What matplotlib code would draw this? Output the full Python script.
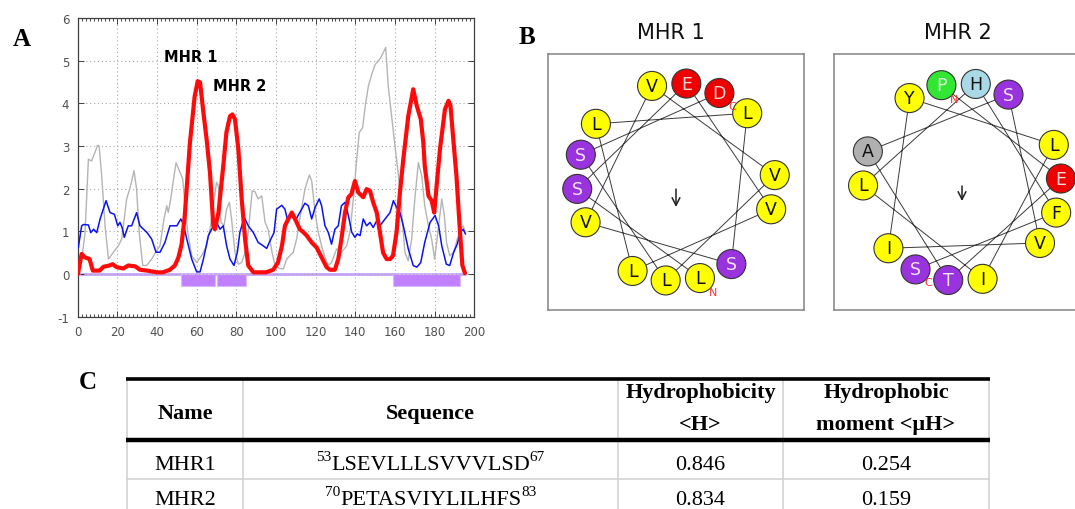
import matplotlib
matplotlib.use("Agg")
import numpy as np
import matplotlib.pyplot as plt
from matplotlib.patches import Circle

plt.rcParams["axes.unicode_minus"] = False

W, H, DPI = 1075, 510, 100

# ---------------- Panel A: profiles along the sequence ----------------
seq_length = 196

red_x = [0, 2, 3.7, 6, 7.6, 11, 13, 16, 17.6, 19.7, 23, 25.5, 29, 31.4, 35, 40, 43, 46.5, 49, 50.8,
         52.4, 54, 56.6, 59, 60.5, 61.7, 63.4, 65, 66.7, 68.4, 69.2, 71, 73.4, 75, 76.8, 78, 79.3, 81, 82.7, 84.4,
         86, 88.6, 95, 98.6, 101, 103, 104.5, 106.2, 108, 109.6, 112, 113.8, 115.5, 118, 120.5, 123, 125.5, 127.2, 129.7, 131.4,
         133, 134.8, 136.5, 138, 139.8, 141.5, 144, 145.7, 147.4, 149, 150.8, 152.4, 154, 155.8, 157.5, 159, 160.8, 162.5, 164.2, 166.7,
         169.2, 171, 173, 174.3, 175, 176.9, 178.5, 179.8, 181, 182.7, 185.2, 187, 188, 189.4, 191, 192.8, 194, 195.3]
red_y = [0, 0.47, 0.39, 0.35, 0.08, 0.08, 0.17, 0.2, 0.23, 0.16, 0.13, 0.2, 0.18, 0.1, 0.08, 0.04, 0.04, 0.1, 0.2, 0.39,
         0.7, 1.37, 3.08, 4.17, 4.52, 4.49, 3.78, 3.16, 2.38, 1.13, 1.05, 1.44, 2.53, 3.32, 3.7, 3.74, 3.63, 2.93, 1.76, 0.82,
         0.2, 0.04, 0.04, 0.1, 0.27, 0.66, 1.13, 1.29, 1.44, 1.29, 1.05, 0.98, 0.9, 0.74, 0.62, 0.39, 0.16, 0.1, 0.1, 0.35,
         0.82, 1.44, 1.8, 1.87, 2.18, 1.91, 1.8, 1.99, 1.95, 1.68, 1.44, 0.98, 0.5, 0.35, 0.35, 0.43, 0.98, 1.91, 2.69, 3.7,
         4.33, 3.94, 3.63, 3.08, 2.54, 1.83, 1.72, 1.44, 2.07, 2.93, 3.86, 4.06, 3.94, 3.16, 2.3, 0.98, 0.2, 0.02]

blue_x = [0.3, 2, 2.9, 5.4, 6.6, 8, 9.6, 11.3, 14.3, 16.3, 18.5, 20.2, 21.3, 22.4, 23.5, 25.5, 27.2, 29.7, 31.4, 35,
          37.3, 39.5, 41.5, 44, 46.5, 50, 52, 53.3, 55, 57.5, 60, 61.7, 63.4, 65.9, 68.4, 70, 71.8, 73.4, 75.1, 76.8,
          78.8, 80.5, 81.8, 84, 86, 88.6, 91, 93.6, 95.3, 97, 99, 100.3, 102.9, 104.5, 105.7, 107.9, 109.6, 112, 114.6, 116.3,
          118, 119.7, 121.8, 123, 124.7, 126.4, 128, 129.7, 131.4, 133, 134.8, 136.5, 138.2, 139.8, 141, 142.4, 144, 145.7, 147.4, 149,
          150.8, 152.4, 155, 157.5, 159.2, 160.8, 162.5, 164.2, 166.7, 169.2, 171, 173, 175, 177.7, 180.2, 182, 183.6, 185.9, 187.6, 189.6,
          191.4, 193, 194.4, 195.5]
blue_y = [0.62, 1.13, 1.16, 1.15, 0.97, 1.05, 0.97, 1.29, 1.72, 1.44, 1.4, 1.13, 1.21, 1.09, 0.86, 1.13, 1.13, 1.44, 1.13, 0.97,
          0.82, 0.51, 0.51, 0.74, 1.13, 1.13, 1.29, 1.17, 0.82, 0.35, 0.05, 0.05, 0.35, 0.9, 1.13, 1.21, 1.05, 1.13, 0.66, 0.35,
          0.2, 0.51, 0.98, 1.33, 1.13, 0.97, 0.74, 0.66, 0.6, 0.78, 0.97, 1.52, 1.61, 1.52, 1.29, 1.37, 1.25, 1.44, 1.66, 1.6,
          1.29, 1.56, 1.76, 1.6, 1.13, 0.97, 0.7, 1.05, 1.13, 1.6, 1.68, 1.37, 0.98, 0.86, 0.94, 0.9, 1.29, 1.13, 1.21, 1.09,
          1.25, 1.13, 1.29, 1.44, 1.72, 1.56, 1.44, 1.13, 0.59, 0.2, 0.16, 0.27, 0.74, 1.21, 1.37, 1.13, 0.66, 0.23, 0.2, 0.51,
          0.7, 0.98, 1.05, 0.94]

grey_x = [1.2, 3.7, 5.4, 7, 8.7, 10, 10.8, 12.1, 13.8, 15.5, 18, 20.5, 22.2, 24.7, 26.7, 28.4, 29.7, 31, 32.8, 34.8,
          37.3, 39.8, 41.5, 43.5, 44.9, 45.7, 46.9, 48.2, 49.6, 51.6, 53, 54.1, 55.5, 57.5, 60, 62.5, 65, 67, 68.4, 70,
          70.9, 72.3, 73.8, 75.1, 76.5, 77.6, 79.3, 81, 82.7, 84.4, 86, 88, 89.4, 91, 92.8, 94.5, 96, 98, 99.5, 102,
          103.7, 105.4, 107, 108.7, 110.4, 112, 114.6, 116.8, 118, 119.7, 121.3, 123, 124.7, 126.4, 128, 130.6, 133, 135.6, 137.3, 139,
          140.7, 142, 143.7, 145, 146.6, 148.3, 150, 151.7, 152.8, 154.1, 155.3, 156.6, 158.3, 160, 161.6, 163.4, 165, 166.7, 168.4, 170,
          171.8, 173.5, 175, 176.9, 178.5, 180, 181.6, 183.6, 184.9, 186, 187.6, 189.6, 191.4, 193, 194.4, 195.5]
grey_y = [0, 0.97, 2.69, 2.65, 2.85, 3.02, 3.0, 2.3, 1.13, 0.35, 0.51, 0.66, 0.82, 1.76, 2.07, 2.42, 1.99, 0.98, 0.2, 0.2,
          0.35, 0.55, 0.66, 1.29, 1.6, 1.44, 1.76, 2.18, 2.61, 2.38, 2.22, 1.6, 0.98, 0.43, 0.27, 0.43, 0.66, 1.13, 1.6, 2.15,
          2.07, 1.21, 1.13, 1.52, 1.68, 1.29, 0.51, 0.23, 0.27, 0.51, 0.98, 1.95, 1.93, 1.76, 1.83, 1.21, 1.05, 0.51, 0.2, 0.13,
          0.12, 0.35, 0.43, 0.51, 0.82, 1.29, 1.99, 2.32, 2.18, 1.44, 0.98, 0.66, 0.39, 0.2, 0.27, 0.59, 0.51, 0.66, 0.98, 1.76,
          2.69, 3.32, 3.43, 3.94, 4.41, 4.68, 4.91, 5.0, 5.07, 5.19, 5.31, 4.41, 3.7, 3.0, 2.38, 1.44, 0.51, 0.31, 0.82, 1.76,
          2.61, 2.3, 1.6, 1.13, 0.82, 0.35, 0.97, 1.76, 1.37, 0.74, 0.43, 0.51, 0.82, 1.05, 1.13, 0.97]

# predicted segments (start, end residue)
segments = [(52, 69), (70, 85), (159, 193)]
segment_depth = 0.28

peak_labels = ["MHR 1", "MHR 2"]
peak_label_x = [57, 81.7]
peak_label_y = [5.09, 4.42]

# ---------------- Panel B: helical wheels ----------------
wheel_titles = ["MHR 1", "MHR 2"]
wheel_seqs = ["LSEVLLLSVVVLSD", "PETASVIYLILHFS"]
wheel_start_deg = [284, 102]
wheel_step_deg = -100

residue_fill = {"L": "#ffff00", "V": "#ffff00", "I": "#ffff00", "F": "#ffff00", "Y": "#ffff00",
                "S": "#9933dd", "T": "#9933dd", "E": "#ee0000", "D": "#ee0000",
                "P": "#33e633", "H": "#a9d8e6", "A": "#b0b0b0"}
residue_text = {"S": "#f2e6ff", "T": "#f2e6ff", "E": "#ffd6d6", "D": "#ffd6d6", "P": "#e0ffe0"}

# ---------------- Panel C: table ----------------
col_headers = ["Name", "Sequence", "Hydrophobicity\n<H>", "Hydrophobic\nmoment <\u03bcH>"]
row_names = ["MHR1", "MHR2"]
row_seqs = ["LSEVLLLSVVVLSD", "PETASVIYLILHFS"]
row_start = [53, 70]
row_end = [67, 83]
row_H = ["0.846", "0.834"]
row_muH = ["0.254", "0.159"]

fig = plt.figure(figsize=(W / DPI, H / DPI), dpi=DPI)
fig.patch.set_facecolor("white")


def px_rect(x0, y0, x1, y1):
    return [x0 / W, 1 - y1 / H, (x1 - x0) / W, (y1 - y0) / H]


# ---- panel A
ax = fig.add_axes(px_rect(77.7, 19, 474.3, 317.7))
ax.set_xlim(0, 200)
ax.set_ylim(-1, 6)
ax.set_xticks(np.arange(0, 201, 20))
ax.set_xticks(np.arange(0, 201, 2), minor=True)
ax.set_yticks(np.arange(-1, 7, 1))
ax.grid(True, which="major", color="#a8a8a8", linestyle=(0, (1, 2.5)), linewidth=0.8)
ax.tick_params(which="both", direction="in", top=True, right=True, colors="#404040",
               labelcolor="#505050", labelsize=8.5, width=0.7)
ax.tick_params(which="major", length=4, pad=6)
ax.tick_params(which="minor", length=2)
for s in ax.spines.values():
    s.set_color("#404040")
    s.set_linewidth(0.9)

ax.hlines(0, 0, seq_length, color="#c9a2ff", linewidth=2, zorder=1)
for a, b in segments:
    ax.bar(a, -segment_depth, width=b - a, align="edge", color="#c080ff",
           edgecolor="#d9b8ff", linewidth=0.8, zorder=1.5)
ax.plot(grey_x, grey_y, color="#b4b4b4", linewidth=1.0, zorder=2)
ax.plot(blue_x, blue_y, color="#0a14ee", linewidth=1.1, zorder=3)
ax.plot(red_x, red_y, color="#ff0a0a", linewidth=3.0, zorder=4,
        solid_joinstyle="round", solid_capstyle="round")
for t, x, y in zip(peak_labels, peak_label_x, peak_label_y):
    ax.text(x, y, t, ha="center", va="center", fontsize=10.5, fontweight="bold",
            family="DejaVu Sans", color="black", zorder=5)

# ---- overlay for labels and table (pixel coordinates)
ov = fig.add_axes([0, 0, 1, 1], zorder=-1)
ov.set_xlim(0, W)
ov.set_ylim(H, 0)
ov.axis("off")

for lab, x, y in [("A", 22, 39), ("B", 527, 38), ("C", 88, 383)]:
    ov.text(x, y, lab, ha="center", va="center", fontsize=18, fontweight="bold",
            family="Liberation Serif", color="black")

# ---- panel B
wheel_boxes = [(548, 55, 804, 311), (834, 55, 1090, 311)]
title_x = [671, 958]
arrow_spans = [(-0.07, -0.25), (-0.04, -0.19)]
for k in range(2):
    x0, y0, x1, y1 = wheel_boxes[k]
    wa = fig.add_axes(px_rect(x0, y0, x1, y1))
    wa.set_xlim(-1.28, 1.28)
    wa.set_ylim(-1.28, 1.28)
    wa.set_xticks([])
    wa.set_yticks([])
    for s in wa.spines.values():
        s.set_color("#8c8c8c")
        s.set_linewidth(1.2)
    ov.text(title_x[k], 33, wheel_titles[k], ha="center", va="center",
            fontsize=15, family="DejaVu Sans", color="#111111")

    seq = wheel_seqs[k]
    ang = np.deg2rad(wheel_start_deg[k] + wheel_step_deg * np.arange(len(seq)))
    r = 0.99
    xs, ys = r * np.cos(ang), r * np.sin(ang)
    wa.plot(xs, ys, color="#3a3a3a", linewidth=0.7, zorder=1)
    for aa, x, y in zip(seq, xs, ys):
        wa.add_patch(Circle((x, y), 0.145, facecolor=residue_fill[aa], edgecolor="#333333",
                            linewidth=0.8, zorder=2))
        wa.text(x, y, aa, ha="center", va="center", fontsize=12.5, family="DejaVu Sans",
                color=residue_text.get(aa, "#111111"), zorder=3)
    wa.text(xs[0] + 0.13, ys[0] - 0.14, "N", color="#ee3333", fontsize=8,
            ha="center", va="center", zorder=4)
    wa.text(xs[-1] + 0.13, ys[-1] - 0.13, "C", color="#ee3333", fontsize=8,
            ha="center", va="center", zorder=4)
    a0, a1 = arrow_spans[k]
    wa.annotate("", xy=(0, a1), xytext=(0, a0),
                arrowprops=dict(arrowstyle="->,head_length=0.55,head_width=0.28",
                                color="#222222", lw=1.1, shrinkA=0, shrinkB=0))

# ---- panel C
tl, tr = 127, 989
col_edges = [tl, 243, 618, 783, tr]
col_centers = [(col_edges[i] + col_edges[i + 1]) / 2 for i in range(4)]
top_y, head_y, row_y = 380, 441, 480
grey = "#cfcfcf"
for x in col_edges:
    ov.plot([x, x], [top_y, H + 5], color=grey, linewidth=1.1, solid_capstyle="butt")
ov.plot([tl, tr], [row_y, row_y], color=grey, linewidth=1.1)
ov.plot([tl - 1, tr + 1], [top_y, top_y], color="black", linewidth=2.6, solid_capstyle="butt")
ov.plot([tl - 1, tr + 1], [head_y, head_y], color="black", linewidth=3.2, solid_capstyle="butt")

serif = "Liberation Serif"
fs = 16
ov.text(col_centers[0], 419, col_headers[0], ha="center", va="baseline", fontsize=fs,
        fontweight="bold", family=serif)
ov.text(col_centers[1], 419, col_headers[1], ha="center", va="baseline", fontsize=fs,
        fontweight="bold", family=serif)
for c in (2, 3):
    l1, l2 = col_headers[c].split("\n")
    ov.text(col_centers[c], 398, l1, ha="center", va="baseline", fontsize=fs,
            fontweight="bold", family=serif)
    ov.text(col_centers[c], 430, l2, ha="center", va="baseline", fontsize=fs,
            fontweight="bold", family=serif)

renderer = fig.canvas.get_renderer()
baselines = [470, 505]
sup_fs = 11
sup_rise = 9
for i in range(2):
    b = baselines[i]
    ov.text(col_centers[0], b, row_names[i], ha="center", va="baseline", fontsize=fs, family=serif)
    ov.text(col_centers[2], b, row_H[i], ha="center", va="baseline", fontsize=fs, family=serif)
    ov.text(col_centers[3], b, row_muH[i], ha="center", va="baseline", fontsize=fs, family=serif)

    # residue range: superscript start, sequence, superscript end, centred as a group
    parts = [(str(row_start[i]), sup_fs, b - sup_rise),
             (row_seqs[i], fs, b),
             (str(row_end[i]), sup_fs, b - sup_rise)]
    texts = [ov.text(0, y, s, ha="left", va="baseline", fontsize=f, family=serif)
             for s, f, y in parts]
    widths = [t.get_window_extent(renderer).width for t in texts]
    total = sum(widths)
    x = col_centers[1] - total / 2
    for t, w in zip(texts, widths):
        t.set_x(x)
        x += w

fig.savefig("out.png", dpi=DPI)
